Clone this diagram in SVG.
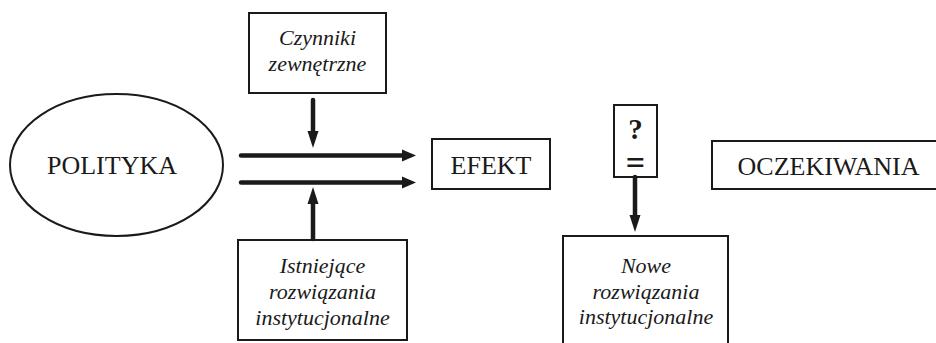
<svg xmlns="http://www.w3.org/2000/svg" width="936" height="343" viewBox="0 0 936 343">
<defs>
<style>
.box{fill:#fff;stroke:#1a1a1a;stroke-width:2}
.t{font-family:"Liberation Serif","Times New Roman",serif;fill:#1a1a1a;text-anchor:middle}
.big{font-size:26px}
.it{font-size:22px;font-style:italic}
.line{stroke:#1a1a1a;stroke-width:4.5;stroke-linecap:round;fill:none}
.head{fill:#1a1a1a}
</style>
</defs>
<rect width="936" height="343" fill="#fff"/>
<g id="polityka">
<ellipse cx="116.5" cy="165" rx="106.5" ry="71" fill="#fff" stroke="#1a1a1a" stroke-width="2"/>
<text class="t big" x="112" y="174">POLITYKA</text>
</g>
<g id="czynniki">
<rect class="box" x="249" y="13" width="137" height="80"/>
<text class="t it" x="317.5" y="45">Czynniki</text>
<text class="t it" x="317.5" y="71">zewnętrzne</text>
</g>
<g id="istniejace">
<rect class="box" x="238" y="240" width="169" height="100"/>
<text class="t it" x="322.5" y="273">Istniejące</text>
<text class="t it" x="322.5" y="299">rozwiązania</text>
<text class="t it" x="322.5" y="325">instytucjonalne</text>
</g>
<g id="efekt">
<rect class="box" x="432" y="139" width="118" height="50"/>
<text class="t big" x="491" y="174">EFEKT</text>
</g>
<g id="pytanie">
<rect class="box" x="614" y="105" width="43" height="72"/>
<text class="t" x="635.5" y="139" font-size="29" font-weight="bold">?</text>
<text class="t" x="635.5" y="174" font-size="34" font-weight="bold">=</text>
</g>
<g id="oczekiwania">
<rect class="box" x="712" y="141" width="230" height="48"/>
<text class="t big" x="828.5" y="175">OCZEKIWANIA</text>
</g>
<g id="nowe">
<rect class="box" x="563" y="236" width="165" height="120"/>
<text class="t it" x="646" y="273">Nowe</text>
<text class="t it" x="646" y="299">rozwiązania</text>
<text class="t it" x="646" y="324">instytucjonalne</text>
</g>
<g id="connectors">
<line class="line" x1="241" y1="155.5" x2="404" y2="155.5"/>
<polygon class="head" points="402,149.5 416,155.5 402,161.5"/>
<line class="line" x1="241" y1="182.5" x2="404" y2="182.5"/>
<polygon class="head" points="402,176.5 416,182.5 402,188.5"/>
<line class="line" x1="313" y1="100" x2="313" y2="133" stroke-linecap="butt"/>
<polygon class="head" points="307.5,131 318.5,131 313,148"/>
<line class="line" x1="313" y1="239" x2="313" y2="203" stroke-linecap="butt"/>
<polygon class="head" points="307.5,204 318.5,204 313,187"/>
<line class="line" x1="635" y1="177" x2="635" y2="217" stroke-linecap="butt"/>
<polygon class="head" points="629.5,215 640.5,215 635,232"/>
</g>
</svg>
